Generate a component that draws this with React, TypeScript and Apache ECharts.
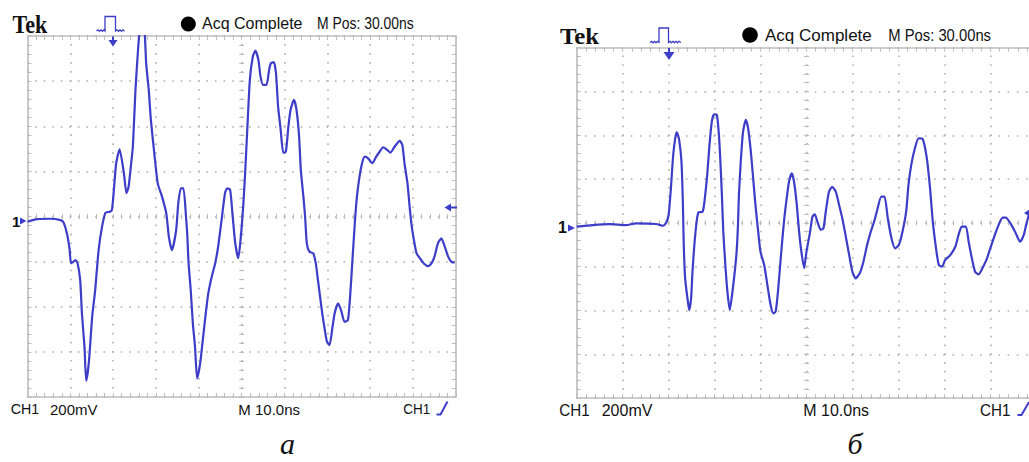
import React, { useEffect, useRef } from "react";
import * as echarts from "echarts";

// Oscillogram (а): time in ns (10 ns/div), amplitude in mV (200 mV/div) from graticule centre
const timeA: number[] = [
  0, 2.2, 5.3, 7.7, 8.4, 9.2, 9.8, 10.2, 11.2, 11.7,
  12.3, 12.7, 13.3, 13.7, 14.3, 15.1, 15.8, 16.6, 17.4, 18.2,
  19.2, 19.7, 20.1, 20.7, 21.5, 22.5, 23.1, 23.6, 24.2, 24.6,
  25.2, 25.8, 26.2, 26.7, 27.3, 27.7, 28.3, 28.8, 29.6, 30.4,
  31.4, 32.4, 33.0, 33.7, 34.7, 35.2, 35.8, 36.4, 37.0, 37.3,
  37.6, 38.1, 38.6, 39.1, 39.6, 40.3, 41.0, 41.7, 42.2, 43.0,
  43.8, 44.5, 45.3, 46.1, 46.6, 47.3, 47.9, 48.5, 49.2, 49.8,
  50.4, 50.8, 51.3, 51.9, 52.6, 53.2, 53.9, 54.4, 55.0, 55.8,
  56.4, 56.8, 57.5, 58.0, 58.5, 59.1, 59.7, 60.3, 60.9, 61.4,
  62.2, 62.8, 63.4, 63.8, 64.4, 64.8, 65.2, 65.8, 66.7, 67.3,
  67.8, 68.3, 68.8, 69.4, 69.9, 70.5, 71.1, 71.7, 72.5, 73.2,
  74.0, 74.8, 75.3, 75.8, 76.4, 76.9, 77.5, 78.1, 78.7, 79.5,
  80.5, 81.4, 82.2, 83.0, 83.8, 84.7, 85.7, 86.9, 87.5, 88.0,
  88.7, 89.2, 89.7, 90.2, 90.8, 91.6, 92.5, 93.5, 94.3, 95.0,
  95.8, 96.6, 97.4, 98.2, 98.9, 99.7,
];
const voltA: number[] = [
  -23, -12, -10, -16, -26, -75, -141, -208, -193, -208,
  -282, -429, -577, -728, -651, -444, -326, -149, -45, 17,
  21, 29, 103, 236, 298, 192, 103, 132, 236, 310,
  561, 738, 827, 858, 827, 679, 561, 428, 280, 147,
  88, 14, -90, -149, -60, 59, 125, 125, -1, -82,
  -208, -326, -474, -577, -718, -651, -533, -415, -341, -267,
  -208, -134, -16, 103, 125, 118, -1, -119, -185, -90,
  59, 192, 384, 605, 709, 735, 694, 620, 583, 583,
  650, 679, 684, 635, 487, 384, 283, 287, 398, 472,
  517, 472, 354, 206, 88, -1, -119, -156, -163, -208,
  -282, -356, -429, -503, -555, -570, -503, -429, -385, -415,
  -467, -459, -356, -208, -30, 88, 177, 236, 265, 258,
  236, 265, 287, 307, 298, 283, 310, 335, 317, 236,
  147, 43, -45, -104, -163, -185, -208, -220, -208, -178,
  -119, -97, -134, -178, -200, -205,
];

// Oscillogram (б)
const timeB: number[] = [
  0, 3.5, 7.1, 10.7, 12.9, 17.3, 18.8, 19.4, 20.0, 20.5,
  21.0, 21.5, 21.8, 22.3, 22.8, 23.1, 23.3, 23.6, 24.2, 24.5,
  24.9, 25.2, 25.6, 26.1, 26.5, 27.4, 27.8, 28.4, 28.9, 29.4,
  29.9, 30.5, 30.9, 31.2, 31.6, 31.9, 32.4, 32.8, 33.3, 33.9,
  34.4, 34.8, 35.1, 35.3, 35.7, 36.2, 36.8, 37.3, 37.9, 38.4,
  38.9, 39.5, 40.0, 40.8, 41.5, 42.2, 42.8, 43.3, 43.8, 44.4,
  45.1, 45.7, 46.2, 46.8, 47.3, 47.9, 48.4, 48.9, 49.5, 50.0,
  50.8, 51.3, 51.8, 52.4, 53.1, 53.7, 54.2, 54.9, 55.6, 56.4,
  57.1, 57.8, 58.5, 59.3, 60.0, 60.7, 61.6, 62.4, 63.2, 64.0,
  64.7, 65.3, 66.3, 67.0, 67.7, 68.5, 69.3, 70.1, 70.9, 71.7,
  72.2, 72.8, 73.6, 74.4, 75.3, 76.2, 76.9, 77.5, 78.2, 78.8,
  79.5, 80.2, 81.3, 82.4, 83.1, 83.8, 84.7, 85.3, 86.0, 86.7,
  87.5, 88.3, 89.3, 90.0, 91.0, 91.8, 92.7, 93.4, 94.4, 95.4,
  96.5, 97.3, 97.8, 98.4, 99.3,
];
const voltB: number[] = [
  -17, -10, -6, -10, -2, -5, -13, -2, 36, 158,
  310, 394, 414, 379, 279, 97, -101, -253, -360, -398,
  -344, -223, -101, 5, 48, 51, 97, 219, 356, 462,
  496, 493, 416, 310, 127, -40, -207, -314, -398, -314,
  -223, -132, -10, 127, 279, 416, 470, 432, 325, 204,
  82, -40, -132, -192, -284, -375, -413, -405, -314, -162,
  5, 112, 188, 226, 188, 82, -40, -132, -207, -132,
  -40, 28, 39, 5, -32, -25, 51, 142, 165, 142,
  82, 21, -55, -147, -223, -253, -230, -177, -101, -40,
  4, 51, 120, 120, 21, -70, -116, -101, -40, 51,
  173, 264, 341, 386, 383, 295, 158, 5, -116, -192,
  -200, -169, -147, -109, -55, -17, -17, -86, -162, -223,
  -235, -207, -162, -116, -55, -10, 24, 24, -2, -40,
  -86, -55, -10, 36, 82,
];

// Screen span: 10 div × 10 ns horizontally, 8 div × 200 mV vertically
const timeRange = [0, 100];
const timeStep = 10;
const voltRange = [-800, 800];
const voltStep = 200;

// Readout texts
const scopeBrand = "Tek";
const acqState = "Acq Complete";
const posReadout = "M Pos: 30.00ns";
const chLabel = "CH1";
const voltReadout = "200mV";
const timeReadout = "M 10.0ns";
const captions = ["а", "б"];

const TRACE = "#3d3dc8";
const FRAME = "#bdbdbd";
const DOTS = "#b0b0b0";
const INK = "#111111";

const panels = [
  { left: 27.5, top: 36, width: 428.4, height: 361 },
  { left: 576.7, top: 47.7, width: 459.5, height: 350.4 },
];

const xAxes: any[] = [];
const yAxes: any[] = [];

panels.forEach((p, g) => {
  const dotX = p.width / 50;
  const dotY = p.height / 40;
  const tick = (len: number) => ({ show: true, inside: true, length: len, lineStyle: { color: FRAME, width: 1 } });
  const minor = (len: number) => ({ show: true, splitNumber: 5, length: len, lineStyle: { color: FRAME, width: 1 } });
  const frame = { show: true, onZero: false, lineStyle: { color: FRAME, width: 1.6 } };
  const hidden = { show: false, onZero: false };
  const xBase = {
    type: "value", gridIndex: g, min: timeRange[0], max: timeRange[1], interval: timeStep,
    axisLabel: { show: false }, splitLine: { show: false },
  };
  const yBase = {
    type: "value", gridIndex: g, min: voltRange[0], max: voltRange[1], interval: voltStep,
    axisLabel: { show: false }, splitLine: { show: false },
  };
  xAxes.push(
    {
      ...xBase, position: "bottom", axisLine: frame, axisTick: tick(4), minorTick: minor(4),
      splitLine: { show: true, lineStyle: { color: DOTS, width: 1.6, type: [1.6, dotY - 1.6], dashOffset: 0.8 } },
    },
    { ...xBase, position: "top", axisLine: frame, axisTick: tick(4), minorTick: minor(4) },
    { ...xBase, position: "bottom", offset: -(p.height / 2 - 2.5), axisLine: hidden, axisTick: tick(5), minorTick: minor(5) },
  );
  yAxes.push(
    {
      ...yBase, position: "left", axisLine: frame, axisTick: tick(4), minorTick: minor(4),
      splitLine: { show: true, lineStyle: { color: DOTS, width: 1.6, type: [1.6, dotX - 1.6], dashOffset: 0.8 } },
    },
    { ...yBase, position: "right", axisLine: frame, axisTick: tick(4), minorTick: minor(4) },
    { ...yBase, position: "left", offset: -(p.width / 2 - 2.5), axisLine: hidden, axisTick: tick(5), minorTick: minor(5) },
  );
});

const text = (x: number, y: number, str: string, size: number, o: any = {}) => ({
  type: "text",
  x,
  y,
  scaleX: o.scaleX ?? 1,
  silent: true,
  z: 10,
  style: {
    text: str,
    fontSize: size,
    fontFamily: o.family ?? "Liberation Sans",
    fontWeight: o.weight ?? "normal",
    fontStyle: o.italic ? "italic" : "normal",
    fill: o.fill ?? INK,
    textAlign: o.align ?? "left",
    textVerticalAlign: "middle",
    verticalAlign: "middle",
  },
});
const line = (pts: number[][], w = 2) => ({
  type: "polyline", silent: true, z: 10,
  shape: { points: pts },
  style: { stroke: TRACE, lineWidth: w, fill: null },
});
const tri = (pts: number[][]) => ({
  type: "polygon", silent: true, z: 10,
  shape: { points: pts },
  style: { fill: TRACE },
});

const graphic: any[] = [
  // panel а header
  text(12.5, 24.5, scopeBrand, 25, { family: "Liberation Serif", weight: "bold", scaleX: 0.88 }),
  line([[96.5, 31], [98, 29.8], [99.5, 31.3], [101, 29.8], [102.5, 31.3], [104, 29.8], [105, 31], [105, 16.5],
    [115.5, 16.5], [115.5, 31], [117, 29.8], [118.5, 31.3], [120, 29.8], [121.5, 31.3], [123, 29.8], [124.5, 31.3]], 1.3),
  line([[113, 36.5], [113, 41]], 2),
  tri([[108.5, 40], [117.5, 40], [113, 46.5]]),
  { type: "circle", silent: true, z: 10, shape: { cx: 188.3, cy: 24, r: 7.5 }, style: { fill: "#000" } },
  text(202, 23.5, acqState, 16, { scaleX: 1.0 }),
  text(317, 23.5, posReadout, 16, { scaleX: 0.87 }),
  // panel а markers
  text(12, 221.5, "1", 15, { weight: "bold" }),
  tri([[20, 217.5], [20, 224.5], [26.5, 221]]),
  tri([[444.5, 207.5], [451, 203.5], [451, 211.5]]),
  line([[450, 207.5], [457, 207.5]], 2),
  // panel а footer
  text(10.7, 409, chLabel, 15, { scaleX: 0.95 }),
  text(50, 409, voltReadout, 15),
  text(238.3, 409, timeReadout, 15),
  text(403.3, 409, chLabel, 15, { scaleX: 0.9 }),
  line([[436.5, 414.5], [440.5, 414.5], [447.5, 401.5]], 2),
  text(287.5, 443, captions[0], 30, { family: "Liberation Serif", italic: true, align: "center" }),

  // panel б header
  text(560, 36, scopeBrand, 23, { family: "Liberation Serif", weight: "bold", scaleX: 1.08 }),
  line([[650, 42.5], [651.5, 41.3], [653, 42.8], [654.5, 41.3], [656, 42.8], [657.5, 41.3], [659, 42.5], [659, 28],
    [668.5, 28], [668.5, 42.5], [670, 41.3], [671.5, 42.8], [673, 41.3], [674.5, 42.8], [676, 41.3], [677.5, 42.8],
    [679, 41.3], [681, 42.5]], 1.3),
  line([[669, 48], [669, 53]], 2),
  tri([[663.5, 52], [674.5, 52], [669, 60]]),
  { type: "circle", silent: true, z: 10, shape: { cx: 750, cy: 35, r: 7.8 }, style: { fill: "#000" } },
  text(765, 35, acqState, 17, { scaleX: 1.0 }),
  text(888.3, 35, posReadout, 17, { scaleX: 0.87 }),
  // panel б markers
  text(558, 227.5, "1", 16, { weight: "bold" }),
  tri([[568, 224.5], [568, 231.5], [575, 228]]),
  tri([[1024, 213], [1030, 209], [1030, 217]]),
  // panel б footer
  text(559.3, 410, chLabel, 16, { scaleX: 0.95 }),
  text(601.7, 410, voltReadout, 16),
  text(803.3, 410, timeReadout, 16),
  text(980, 410, chLabel, 16, { scaleX: 0.95 }),
  line([[1017.5, 415], [1021.5, 415], [1029, 402]], 2),
  text(855, 443, captions[1], 30, { family: "Liberation Serif", italic: true, align: "center" }),
];

const traceSeries = (t: number[], v: number[], g: number) => ({
  type: "line",
  xAxisIndex: g * 3,
  yAxisIndex: g * 3,
  data: t.map((x, i) => [x, v[i]]),
  showSymbol: false,
  smooth: 0.2,
  clip: true,
  silent: true,
  lineStyle: { color: TRACE, width: 2.2 },
  itemStyle: { color: TRACE },
  z: 5,
});

const option: any = {
  animation: false,
  backgroundColor: "#ffffff",
  grid: panels.map((p) => ({
    left: p.left,
    top: p.top,
    width: p.width,
    height: p.height,
    containLabel: false,
    outerBoundsMode: "none",
  })),
  xAxis: xAxes,
  yAxis: yAxes,
  series: [traceSeries(timeA, voltA, 0), traceSeries(timeB, voltB, 1)],
  graphic,
};

export default function App() {
  const ref = useRef<HTMLDivElement>(null);
  useEffect(() => {
    const chart = echarts.init(ref.current!, null, { renderer: "svg" });
    chart.setOption(option);
    return () => chart.dispose();
  }, []);
  return (
    <div
      ref={ref}
      style={{ position: "fixed", left: 0, top: 0, width: 1029, height: 462, background: "#ffffff" }}
    />
  );
}
